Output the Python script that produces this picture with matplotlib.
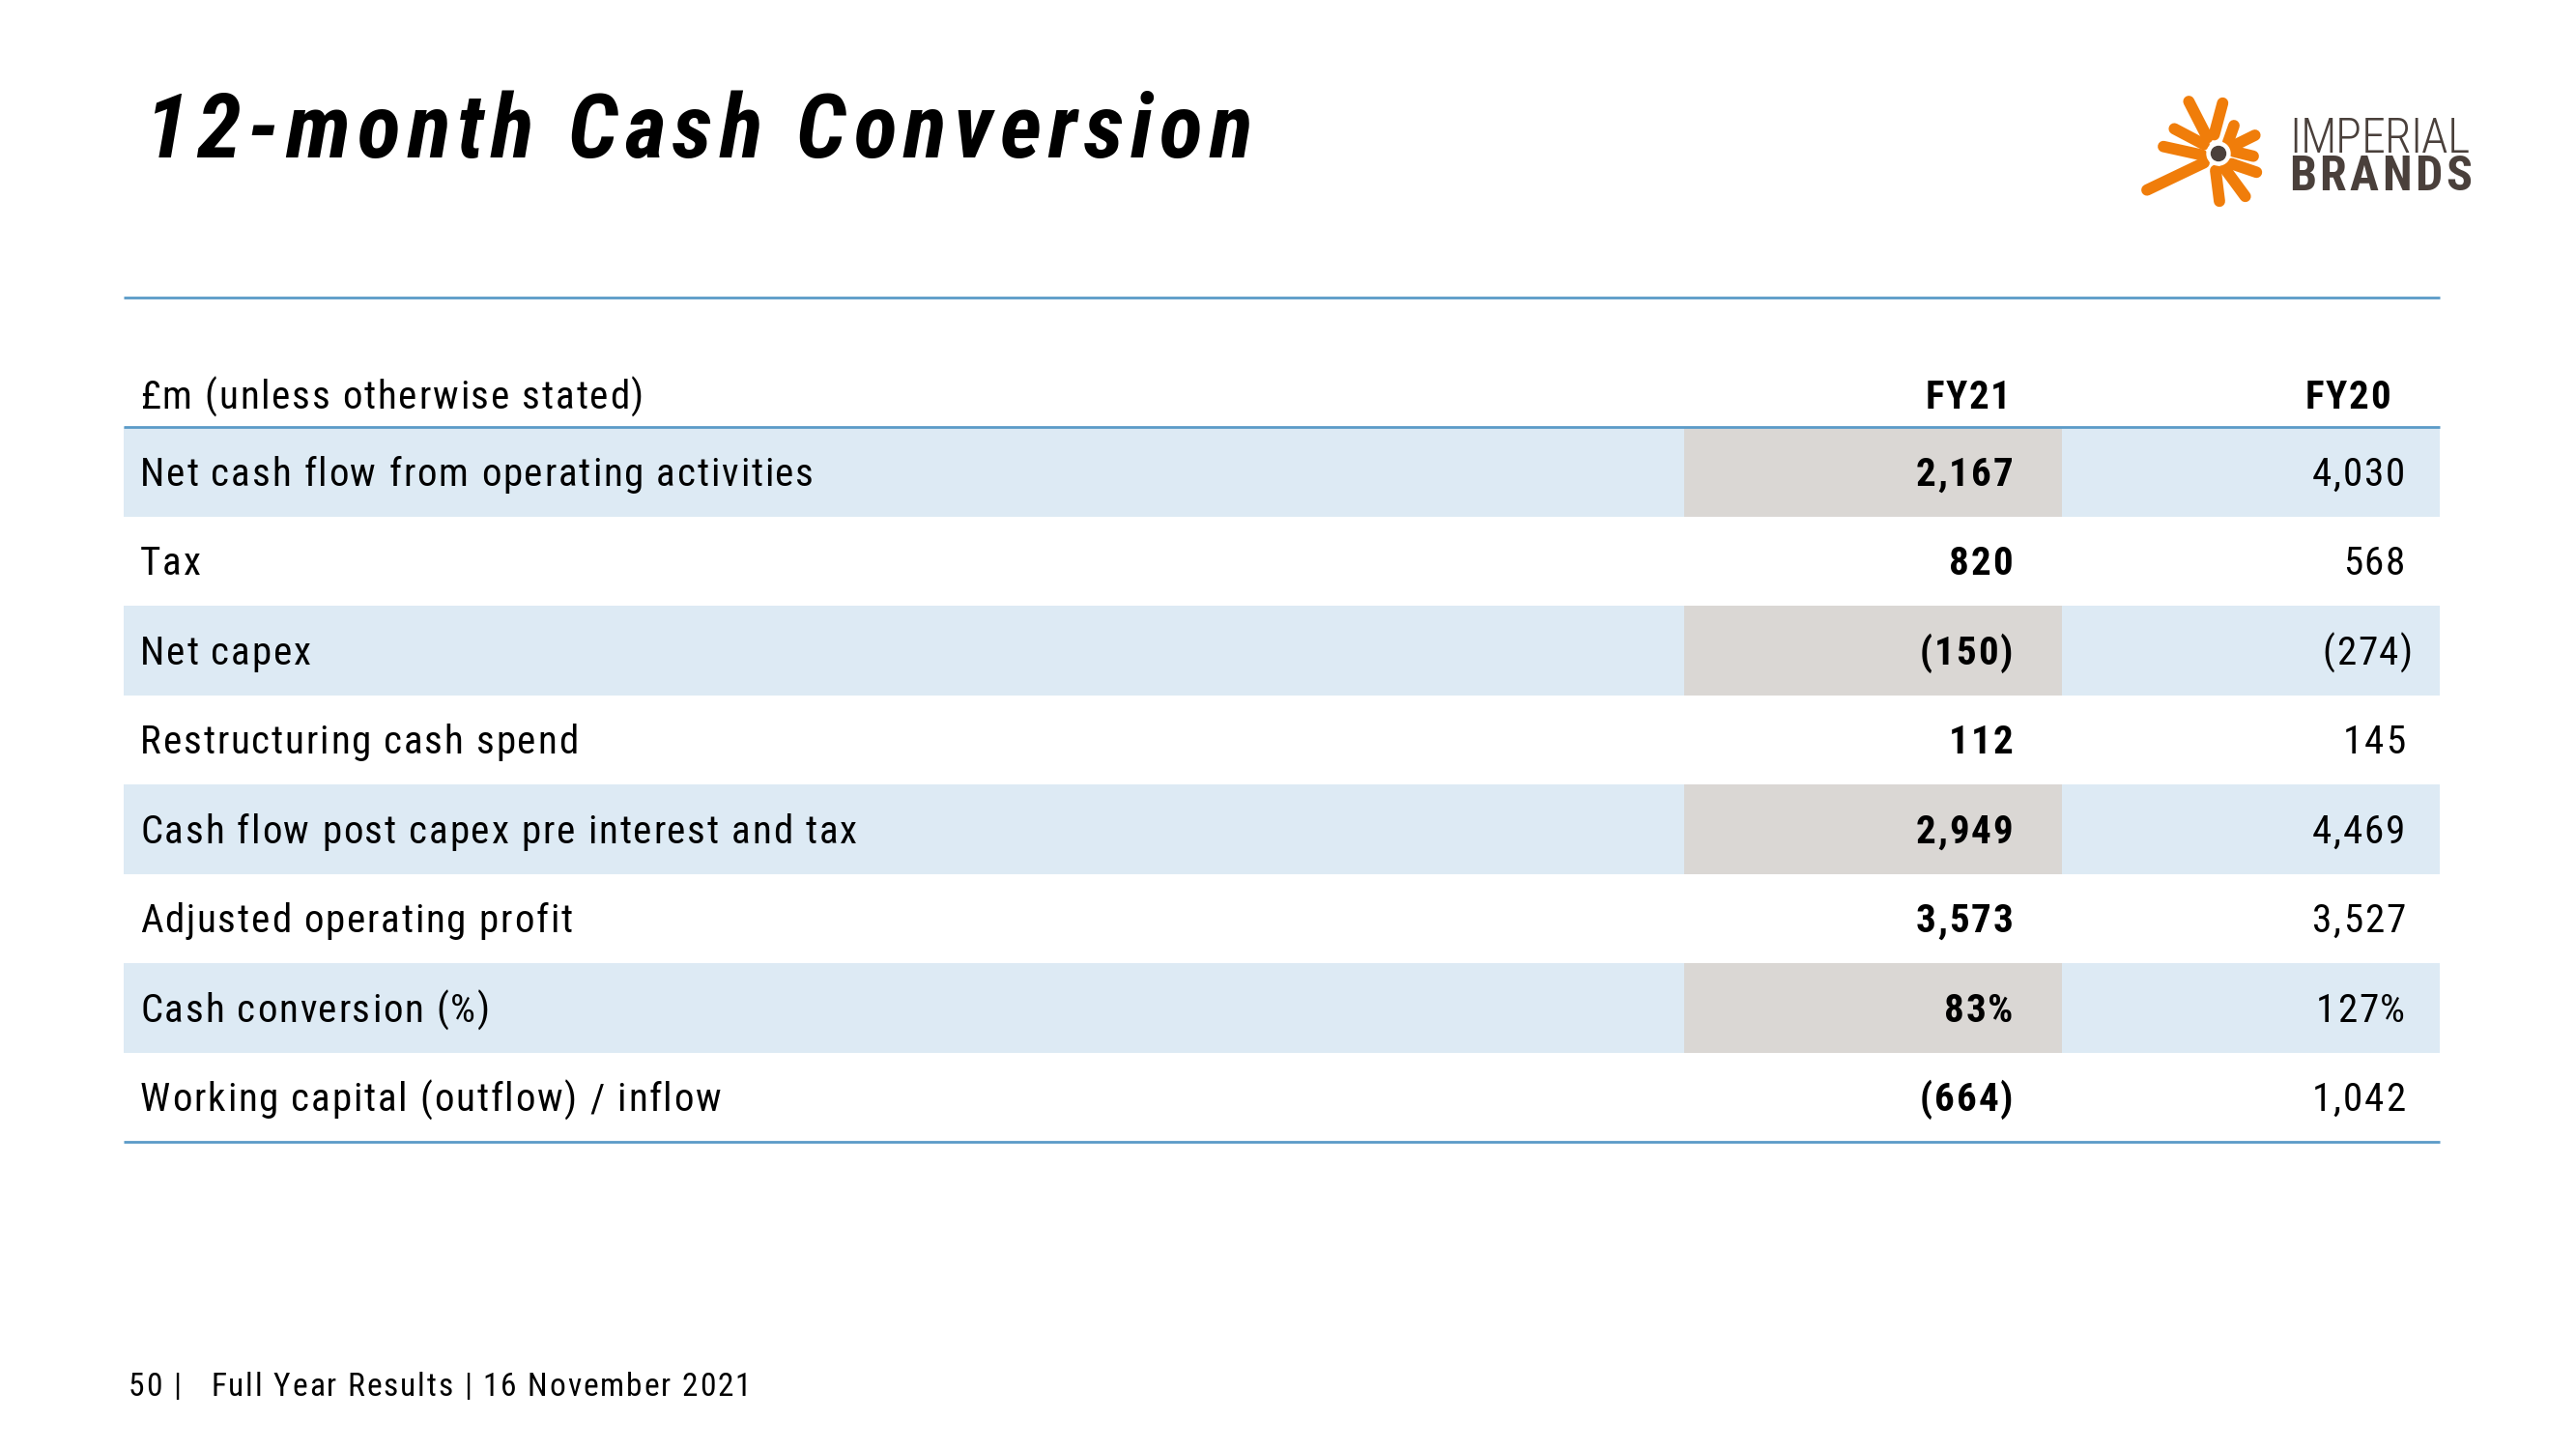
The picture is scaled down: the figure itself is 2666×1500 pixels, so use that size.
"""
Slide "12-month Cash Conversion": table FY21 vs FY20 drawn with matplotlib
on a pixel-sized canvas (2666x1500).
"""

import matplotlib

matplotlib.use("Agg")
import matplotlib.pyplot as plt
from matplotlib import font_manager
from matplotlib.font_manager import FontProperties
from matplotlib.ft2font import FT2Font
from matplotlib.patches import Circle

W, H, DPI = 2666, 1500, 100

# ------------------------------------------------------------------ data
title = "12-month Cash Conversion"
head_label = "£m (unless otherwise stated)"
head_years = ["FY21", "FY20"]
labels = [
    "Net cash flow from operating activities",
    "Tax",
    "Net capex",
    "Restructuring cash spend",
    "Cash flow post capex pre interest and tax",
    "Adjusted operating profit",
    "Cash conversion (%)",
    "Working capital (outflow) / inflow",
]
fy21 = ["2,167", "820", "(150)", "112", "2,949", "3,573", "83%", "(664)"]
fy20 = ["4,030", "568", "(274)", "145", "4,469", "3,527", "127%", "1,042"]
footer = "50 |   Full Year Results | 16 November 2021"

# ---------------------------------------------------------------- styles
INK = "#000000"
RULE = "#5B9BC8"
BLUE = "#DDEAF4"
GREY = "#DAD7D4"
ORANGE = "#F07D0A"
LOGO_INK = "#4A403B"

NAMES = {f.name for f in font_manager.fontManager.ttflist}
FAMILY = next(f for f in ["Liberation Sans Narrow", "Roboto Condensed",
                          "PT Sans Narrow", "Liberation Sans", "DejaVu Sans"]
              if f in NAMES)

TABLE_L, TABLE_R = 128, 2525
LABEL_X, FY21_X, FY20_X, HANG = 145, 2083, 2489, 8
GREY_L, GREY_R = 1743, 2134
TOP_RULE, HEAD_BASE, ROW0, ROW_H = 308, 423, 442, 92.5
BODY = 29.5

fig = plt.figure(figsize=(W / DPI, H / DPI), dpi=DPI)
ax = fig.add_axes([0, 0, 1, 1])
ax.set_xlim(0, W)
ax.set_ylim(H, 0)
ax.axis("off")

_fonts = {}


def advances(s, size, weight="normal", style="normal"):
    key = (size, weight, style)
    if key not in _fonts:
        fp = FontProperties(family=FAMILY, weight=weight, style=style)
        f = FT2Font(font_manager.findfont(fp))
        f.set_size(size, DPI)
        _fonts[key] = f
    f = _fonts[key]
    return [f.load_char(ord(c)).linearHoriAdvance / 65536 for c in s]


def gap_for(ref, width, size, weight="normal", style="normal"):
    # letter spacing (px) that makes a reference string as wide as on the slide
    return (width - sum(advances(ref, size, weight, style))) / (len(ref) - 1)


def spaced(x, y, s, size, gap, weight="normal", style="normal", ha="left",
           color=INK):
    # matplotlib has no letter-spacing, so glyphs are placed one by one
    adv = advances(s, size, weight, style)
    total = sum(adv) + gap * (len(s) - 1)
    if ha == "right":
        x -= total
    for c, a in zip(s, adv):
        if c != " ":
            ax.text(x, y, c, fontsize=size, family=FAMILY, weight=weight,
                    style=style, ha="left", va="baseline", color=color)
        x += a + gap


BODY_GAP = gap_for(labels[0], 697, BODY)

# ----------------------------------------------------------------- title
spaced(150, 163, title, 67, gap_for(title, 1146, 67, "bold", "italic"),
       weight="bold", style="italic")

# ------------------------------------------------------------------ logo
cx, cy = 2296, 159
rays = [
    ((-30.7, 54), (-11.5, 16.5)),
    ((4.3, 52.3), (-4.5, 19.5)),
    ((-45.7, 25.7), (-15, 9.5)),
    ((-57, 7.3), (-17, -1.5)),
    ((-74, -37.7), (-15, -9.5)),
    ((1, -49.3), (-3, -17.5)),
    ((27.7, -44.3), (6.5, -15.5)),
    ((39.3, -19.3), (13.5, -10.5)),
    ((36, -2.7), (15.5, 2.3)),
    ((37.7, 19), (15, 7.8)),
    ((16, 29), (9.8, 11.5)),
]
for (x0, y0), (x1, y1) in rays:
    ax.plot([cx + x0, cx + x1], [cy - y0, cy - y1], color=ORANGE, lw=8.5,
            solid_capstyle="round")
ax.add_patch(Circle((cx, cy), 12, color="white", zorder=3))
ax.add_patch(Circle((cx, cy), 7.5, color=LOGO_INK, zorder=4))
spaced(2369, 158, "IMPERIAL", 36, gap_for("IMPERIAL", 187, 36, "light"),
       weight="light", color=LOGO_INK)
spaced(2369, 197, "BRANDS", 36, gap_for("BRANDS", 189, 36, "bold"),
       weight="bold", color=LOGO_INK)

# ----------------------------------------------------------------- table
n = len(labels)
tops = [ROW0 + i * ROW_H for i in range(n)]
centers = [t + ROW_H / 2 for t in tops]
shaded = centers[::2]
ax.barh(shaded, TABLE_R - TABLE_L, left=TABLE_L, height=ROW_H, color=BLUE, zorder=0)
ax.barh(shaded, GREY_R - GREY_L, left=GREY_L, height=ROW_H, color=GREY, zorder=0)
ax.hlines([TOP_RULE, ROW0, ROW0 + n * ROW_H], TABLE_L, TABLE_R, color=RULE, lw=2)

spaced(LABEL_X, HEAD_BASE, head_label, BODY, BODY_GAP)
spaced(2081, HEAD_BASE, head_years[0], BODY, BODY_GAP, weight="bold", ha="right")
spaced(2474, HEAD_BASE, head_years[1], BODY, BODY_GAP, weight="bold", ha="right")

for c, lab, a, b in zip(centers, labels, fy21, fy20):
    base = c + 14.5
    spaced(LABEL_X, base, lab, BODY, BODY_GAP)
    spaced(FY21_X, base, a, BODY, BODY_GAP, weight="bold", ha="right")
    spaced(FY20_X + (HANG if b.endswith(")") else 0), base, b, BODY, BODY_GAP,
           ha="right")

# ---------------------------------------------------------------- footer
spaced(133, 1445, footer, 24, gap_for(footer, 644, 24))

fig.savefig("out.png", dpi=DPI, facecolor="white")
